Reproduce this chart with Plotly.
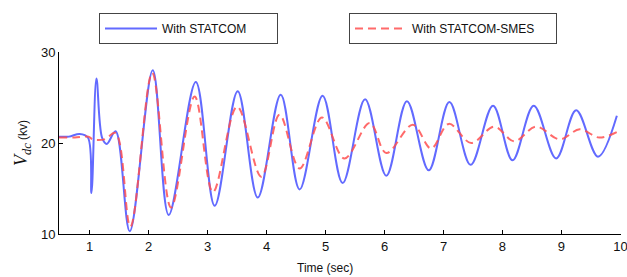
import plotly.graph_objects as go

# ---- data ----
t_statcom = [0.48, 0.65, 0.83, 0.97, 1.03, 1.115, 1.21, 1.29, 1.44, 1.68, 2.07, 2.34, 2.80, 3.12,
             3.51, 3.85, 4.24, 4.56, 4.95, 5.29, 5.67, 6.03, 6.38, 6.75, 7.10, 7.46,
             7.84, 8.17, 8.53, 8.91, 9.25, 9.62, 9.94]
v_statcom = [20.7, 20.7, 21.0, 20.6, 14.5, 27.1, 20.6, 19.9, 21.3, 10.3, 28.0, 12.1, 26.7, 13.1,
             25.7, 14.0, 25.3, 14.9, 25.2, 15.6, 24.8, 16.4, 24.6, 17.0, 24.5, 17.6,
             24.1, 18.1, 24.1, 18.3, 23.6, 18.5, 23.0]

t_smes = [0.48, 0.75, 0.98, 1.05, 1.25, 1.44, 1.69, 2.06, 2.38, 2.78, 3.09, 3.50, 3.91,
          4.22, 4.56, 4.94, 5.32, 5.75, 6.03, 6.48, 6.79, 7.09, 7.47, 7.86, 8.20,
          8.57, 8.97, 9.31, 9.64, 9.94]
v_smes = [20.6, 20.6, 20.7, 20.4, 20.4, 21.1, 10.8, 27.7, 12.9, 25.1, 14.6, 24.0, 16.3,
          23.1, 17.2, 22.8, 18.3, 22.2, 18.9, 22.0, 19.4, 22.1, 20.0, 21.8, 20.2,
          21.8, 20.4, 21.5, 20.6, 21.2]

x_ticks = [1, 2, 3, 4, 5, 6, 7, 8, 9, 10]
y_ticks = [10, 20, 30]

fig = go.Figure()
fig.add_trace(go.Scatter(
    x=t_statcom, y=v_statcom, mode="lines", name="With STATCOM", showlegend=True,
    line=dict(color="rgba(70,80,255,0.85)", width=2, shape="spline", smoothing=1.0),
    legend="legend",
))
fig.add_trace(go.Scatter(
    x=t_smes, y=v_smes, mode="lines", name="With STATCOM-SMES", showlegend=True,
    line=dict(color="rgba(255,80,80,0.85)", width=2, dash="8px,5px", shape="spline", smoothing=1.0),
    legend="legend2",
))

W, H = 627, 277
ml, mr, mt, mb = 59, 6, 52, 43
pw, ph = W - ml - mr, H - mt - mb

def px(x):
    return (x - ml) / pw

def py(y):
    return (H - mb - y) / ph

legend_common = dict(
    orientation="h", bgcolor="white", bordercolor="#444", borderwidth=1,
    font=dict(family="Liberation Sans, Arial", size=12, color="#111"),
    xanchor="left", yanchor="top", itemwidth=52,
    xref="container", yref="container",
)

fig.update_layout(
    width=W, height=H,
    showlegend=True,
    margin=dict(l=ml, r=mr, t=mt, b=mb, autoexpand=False),
    paper_bgcolor="white", plot_bgcolor="white",
    font=dict(family="Liberation Sans, Arial", size=13, color="#111"),
    legend=dict(x=99 / W, y=1 - 13 / H, entrywidth=110, **legend_common),
    legend2=dict(x=349 / W, y=1 - 13 / H, entrywidth=139, **legend_common),
    xaxis=dict(
        range=[0.48, 10.01], tickvals=x_ticks, ticktext=[str(v) for v in x_ticks],
        showline=True, linecolor="black", linewidth=1, mirror=False, automargin=False,
        ticks="inside", ticklen=4, tickcolor="black", showgrid=False, zeroline=False,
        tickfont=dict(size=13), ticklabeloverflow="allow",
    ),
    yaxis=dict(
        range=[10, 30], tickvals=y_ticks, ticktext=[str(v) for v in y_ticks],
        showline=True, linecolor="black", linewidth=1, mirror=False, automargin=False,
        ticks="inside", ticklen=4, tickcolor="black", showgrid=False, zeroline=False,
        tickfont=dict(size=13), ticklabeloverflow="allow",
        title=dict(
            text="<i>V<sub>dc</sub></i><span style='font-size:12px;font-family:Liberation Sans'> (kv)</span>",
            font=dict(family="Liberation Serif, Times New Roman", size=18),
            standoff=8,
        ),
    ),
    annotations=[dict(
        text="Time (sec)", xref="paper", yref="paper", x=px(325), y=py(268),
        xanchor="center", yanchor="middle", showarrow=False,
        font=dict(size=12, color="#111"),
    )],
)

fig.write_html("out.html", post_script="document.body.style.margin='0';",
               config={"displayModeBar": False})
